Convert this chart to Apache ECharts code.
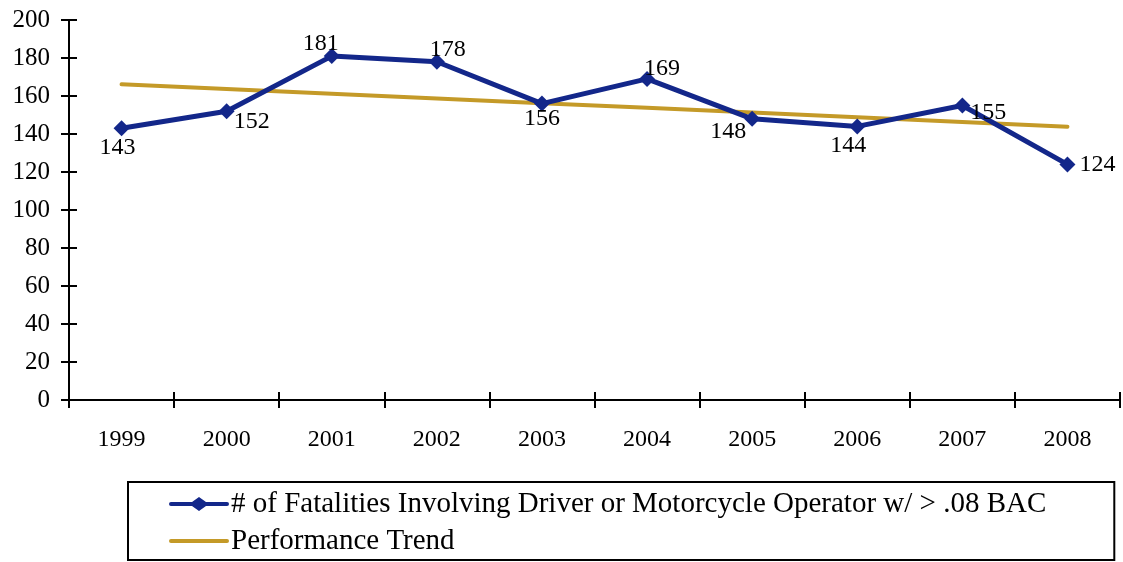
<!DOCTYPE html>
<html><head><meta charset="utf-8">
<script src="https://cdn.jsdelivr.net/npm/echarts@6/dist/echarts.min.js"></script>
<style>html,body{margin:0;padding:0;background:#fff}#c{width:1123px;height:562px}</style>
</head><body><div id="c"></div>
<script>
const categories = ['1999','2000','2001','2002','2003','2004','2005','2006','2007','2008'];
const fatalities = [143,152,181,178,156,169,148,144,155,124];
const trend = [166.2,163.7,161.2,158.7,156.2,153.8,151.3,148.8,146.3,143.8];
const yTicks = {min:0, max:200, interval:20};
const seriesNames = ['# of Fatalities Involving Driver or Motorcycle Operator w/ > .08 BAC','Performance Trend'];
const labelPos = [
  {position:'bottom', offset:[-4,-4]},
  {position:'right', offset:[-4,11]},
  {position:'top', offset:[-11,11]},
  {position:'top', offset:[11,11]},
  {position:'bottom', offset:[0,-8]},
  {position:'top', offset:[15,13]},
  {position:'bottom', offset:[-24,-10]},
  {position:'bottom', offset:[-9,-4]},
  {position:'right', offset:[-3,7]},
  {position:'right', offset:[1,0]}
];
const font = 'Liberation Serif';
const legendFont = 'Liberation Serif';
const chart = echarts.init(document.getElementById('c'));
const grid = {left:69, right:3, top:20, bottom:162};
const axisLine = {show:true, lineStyle:{color:'#000', width:2}};
chart.setOption({
  animation:false,
  textStyle:{fontFamily:font},
  grid:[grid, grid],
  xAxis:[
    {type:'category', data:categories, gridIndex:0, boundaryGap:true,
     axisLine:axisLine, axisTick:{show:true, length:8, lineStyle:{width:2,color:'#000'}},
     axisLabel:{fontFamily:font, fontSize:24, color:'#000', margin:28}, splitLine:{show:false}},
    {type:'category', data:categories, gridIndex:1, boundaryGap:true, position:'bottom',
     axisLine:axisLine, axisTick:{show:true, inside:true, length:8, lineStyle:{width:2,color:'#000'}},
     axisLabel:{show:false}, splitLine:{show:false}}
  ],
  yAxis:[
    {type:'value', gridIndex:0, min:yTicks.min, max:yTicks.max, interval:yTicks.interval,
     axisLine:axisLine, axisTick:{show:true, length:8, lineStyle:{width:2,color:'#000'}},
     axisLabel:{fontFamily:font, fontSize:25, color:'#000', margin:19}, splitLine:{show:false}},
    {type:'value', gridIndex:1, min:yTicks.min, max:yTicks.max, interval:yTicks.interval,
     axisLine:axisLine, axisTick:{show:true, inside:true, length:8, lineStyle:{width:2,color:'#000'}},
     axisLabel:{show:false}, splitLine:{show:false}}
  ],
  legend:{
    orient:'vertical', left:128, top:482,
    padding:[7,68,4,41], itemGap:7,
    borderColor:'#000', borderWidth:2, borderRadius:0,
    itemWidth:60, itemHeight:14,
    textStyle:{fontFamily:legendFont, fontSize:29, color:'#000', lineHeight:30, padding:[0,0,0,-3]},
    data:[
      {name:seriesNames[0], icon:'path://M2,5 L23,5 L30,0 L37,5 L58,5 A2,2 0 0 1 58,9 L37,9 L30,14 L23,9 L2,9 A2,2 0 0 1 2,5 Z'},
      {name:seriesNames[1], icon:'path://M2,5 L58,5 A2,2 0 0 1 58,9 L2,9 A2,2 0 0 1 2,5 Z'}
    ]
  },
  series:[
    {name:seriesNames[1], type:'line', xAxisIndex:0, yAxisIndex:0, data:trend,
     symbol:'none', lineStyle:{color:'#C49A28', width:4, cap:'round'}, itemStyle:{color:'#C49A28'}, z:2},
    {name:seriesNames[0], type:'line',
     xAxisIndex:0, yAxisIndex:0,
     data:fatalities.map((v,i)=>({value:v, label:labelPos[i]})),
     symbol:'diamond', symbolSize:16, lineStyle:{color:'#13278A', width:5}, itemStyle:{color:'#13278A'},
     label:{show:true, fontFamily:font, fontSize:24, color:'#000', distance:3}, z:3}
  ]
});
</script></body></html>
